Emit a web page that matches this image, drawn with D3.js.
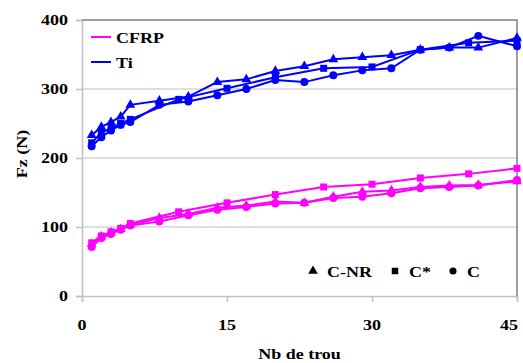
<!DOCTYPE html>
<html>
<head>
<meta charset="utf-8">
<title>Fz vs Nb de trou</title>
<script src="https://d3js.org/d3.v7.min.js"></script>
<style>
  * { margin: 0; padding: 0; }
  body { background: #fff; }
</style>
</head>
<body>
<div id="chart"></div>
<script>
// x positions of holes
const holesA = [1, 2, 3, 4, 5, 8, 11, 14, 17, 20, 23, 26, 29, 32, 35, 38, 41, 45]; // C-NR, C
const holesB = [1, 2, 3, 4, 5, 10, 15, 20, 25, 30, 35, 40, 45];                    // C*

// Ti
const tiCNR = [233, 245, 252, 260, 277, 283, 289, 310, 314, 326, 333, 343, 346, 349, 357, 360, 360, 374];
const tiC   = [217, 230, 240, 248, 252, 277, 282, 291, 300, 313, 310, 320, 327, 330, 357, 360, 377, 362];
const tiCs  = [222, 237, 243, 250, 256, 285, 301, 317, 330, 332, 357, 367, 370];

// CFRP
const cfCNR = [75, 86, 92, 97, 103, 113, 119, 128, 131, 137, 135, 144, 151, 153, 158, 160, 161, 166];
const cfC   = [71, 84, 90, 96, 102, 108, 117, 125, 129, 134, 135, 142, 144, 149, 156, 158, 160, 168];
const cfCs  = [77, 87, 93, 98, 105, 122, 135, 147, 158, 162, 171, 177, 185];

const xTicks = [0, 15, 30, 45];
const yTicks = [0, 100, 200, 300, 400];

const W = 523, H = 363;
const margin = { top: 20, right: 6, bottom: 67, left: 82 };
const SX = 1.2; // text is a bit wide in the original
const FONT = "'Liberation Serif', 'Times New Roman', 'DejaVu Serif', serif";

const svg = d3.select("#chart").append("svg")
  .attr("width", W).attr("height", H);

const x = d3.scaleLinear().domain([0, 45]).range([margin.left, W - margin.right]);
const y = d3.scaleLinear().domain([0, 400]).range([H - margin.bottom, margin.top]);

// stretched text helper
function label(g, txt, px, py, anchor, size) {
  return g.append("text")
    .attr("transform", `translate(${px},${py}) scale(${SX},1)`)
    .attr("text-anchor", anchor)
    .attr("font-family", FONT)
    .attr("font-weight", "bold")
    .attr("font-size", size)
    .text(txt);
}

// grid
svg.append("g").selectAll("line")
  .data([100, 200, 300]).join("line")
  .attr("x1", x(0)).attr("x2", x(45))
  .attr("y1", d => y(d)).attr("y2", d => y(d))
  .attr("stroke", "#c0c0c0").attr("stroke-width", 1.2);

// axes
const yAxis = svg.append("g")
  .attr("transform", `translate(${x(0)},0)`)
  .call(d3.axisLeft(y).tickValues(yTicks).tickSize(6).tickFormat(""));
const xAxis = svg.append("g")
  .attr("transform", `translate(0,${y(0)})`)
  .call(d3.axisBottom(x).tickValues(xTicks).tickSize(6).tickFormat(""));
[yAxis, xAxis].forEach(a => {
  a.selectAll("path, line").attr("stroke", "#c0c0c0").attr("stroke-width", 1.5);
});

// top and right border
svg.append("path")
  .attr("d", `M${x(0)},${y(400)}H${x(45)}V${y(0)}`)
  .attr("fill", "none").attr("stroke", "#808080").attr("stroke-width", 1.5);

// tick labels
yTicks.forEach(v => label(svg, v, 68, y(v) + 5, "end", 15));
xTicks.forEach(v => label(svg, v, Math.min(x(v), 509), 330, "middle", 15));

// axis titles
label(svg, "Nb de trou", (x(0) + x(45)) / 2, 359, "middle", 15);
svg.append("text")
  .attr("transform", `translate(27,${(y(0) + y(400)) / 2 - 4}) rotate(-90) scale(1.2,1)`)
  .attr("text-anchor", "middle")
  .attr("font-family", FONT)
  .attr("font-weight", "bold")
  .attr("font-size", 15)
  .text("Fz (N)");

// series
const series = [
  { xs: holesA, vs: cfCNR, color: "#ff00ff", sym: d3.symbolTriangle, size: 42 },
  { xs: holesB, vs: cfCs,  color: "#ff00ff", sym: d3.symbolSquare,   size: 49 },
  { xs: holesA, vs: cfC,   color: "#ff00ff", sym: d3.symbolCircle,   size: 50 },
  { xs: holesA, vs: tiCNR, color: "#0000ff", sym: d3.symbolTriangle, size: 42 },
  { xs: holesB, vs: tiCs,  color: "#0000ff", sym: d3.symbolSquare,   size: 49 },
  { xs: holesA, vs: tiC,   color: "#0000ff", sym: d3.symbolCircle,   size: 50 }
];

const line = d3.line().x(d => x(d[0])).y(d => y(d[1]));

series.forEach(s => {
  const pts = s.xs.map((h, i) => [h, s.vs[i]]);
  svg.append("path")
    .datum(pts)
    .attr("d", line)
    .attr("fill", "none")
    .attr("stroke", s.color)
    .attr("stroke-width", 2);
  svg.append("g").selectAll("path")
    .data(pts).join("path")
    .attr("transform", d => `translate(${x(d[0])},${y(d[1])})`)
    .attr("d", d3.symbol().type(s.sym).size(s.size))
    .attr("fill", s.color);
});

// legend: materials
const leg1 = [
  { name: "CFRP", color: "#ff00ff", ly: 37 },
  { name: "Ti", color: "#0000ff", ly: 62 }
];
leg1.forEach(d => {
  svg.append("line")
    .attr("x1", 91).attr("x2", 111)
    .attr("y1", d.ly).attr("y2", d.ly)
    .attr("stroke", d.color).attr("stroke-width", 2);
  label(svg, d.name, 116, d.ly + 6, "start", 15);
});

// legend: hole types
const leg2 = [
  { name: "C-NR", sym: d3.symbolTriangle, size: 40, mx: 313 },
  { name: "C*",   sym: d3.symbolSquare,   size: 42, mx: 395 },
  { name: "C",    sym: d3.symbolCircle,   size: 40, mx: 453 }
];
leg2.forEach(d => {
  svg.append("path")
    .attr("transform", `translate(${d.mx},271)`)
    .attr("d", d3.symbol().type(d.sym).size(d.size))
    .attr("fill", "#000");
  label(svg, d.name, d.mx + 14, 277, "start", 15);
});
</script>
</body>
</html>
